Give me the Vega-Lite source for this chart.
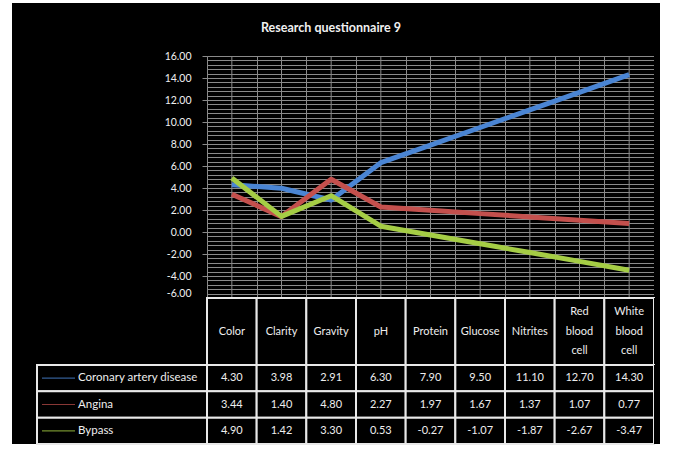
{
  "$schema": "https://vega.github.io/schema/vega-lite/v6.json",
  "background": "white",
  "padding": {"left": 12, "top": 3, "right": 5, "bottom": 5},
  "title": {"text": "Research questionnaire 9", "font": "Lato", "fontSize": 12.5, "fontWeight": "bold", "color": "#f0f0f0", "anchor": "middle", "offset": -31, "dx": -5},
  "datasets": {
    "vals": [
      {"cat": "Color", "series": "Coronary artery disease", "value": 4.30},
      {"cat": "Clarity", "series": "Coronary artery disease", "value": 3.98},
      {"cat": "Gravity", "series": "Coronary artery disease", "value": 2.91},
      {"cat": "pH", "series": "Coronary artery disease", "value": 6.30},
      {"cat": "Protein", "series": "Coronary artery disease", "value": 7.90},
      {"cat": "Glucose", "series": "Coronary artery disease", "value": 9.50},
      {"cat": "Nitrites", "series": "Coronary artery disease", "value": 11.10},
      {"cat": "Red blood cell", "series": "Coronary artery disease", "value": 12.70},
      {"cat": "White blood cell", "series": "Coronary artery disease", "value": 14.30},
      {"cat": "Color", "series": "Angina", "value": 3.44},
      {"cat": "Clarity", "series": "Angina", "value": 1.40},
      {"cat": "Gravity", "series": "Angina", "value": 4.80},
      {"cat": "pH", "series": "Angina", "value": 2.27},
      {"cat": "Protein", "series": "Angina", "value": 1.97},
      {"cat": "Glucose", "series": "Angina", "value": 1.67},
      {"cat": "Nitrites", "series": "Angina", "value": 1.37},
      {"cat": "Red blood cell", "series": "Angina", "value": 1.07},
      {"cat": "White blood cell", "series": "Angina", "value": 0.77},
      {"cat": "Color", "series": "Bypass", "value": 4.90},
      {"cat": "Clarity", "series": "Bypass", "value": 1.42},
      {"cat": "Gravity", "series": "Bypass", "value": 3.30},
      {"cat": "pH", "series": "Bypass", "value": 0.53},
      {"cat": "Protein", "series": "Bypass", "value": -0.27},
      {"cat": "Glucose", "series": "Bypass", "value": -1.07},
      {"cat": "Nitrites", "series": "Bypass", "value": -1.87},
      {"cat": "Red blood cell", "series": "Bypass", "value": -2.67},
      {"cat": "White blood cell", "series": "Bypass", "value": -3.47}
    ],
    "cats": [
      {"cat": "Color"}, {"cat": "Clarity"}, {"cat": "Gravity"}, {"cat": "pH"}, {"cat": "Protein"},
      {"cat": "Glucose"}, {"cat": "Nitrites"}, {"cat": "Red blood cell"}, {"cat": "White blood cell"}
    ],
    "series": [
      {"series": "Coronary artery disease"}, {"series": "Angina"}, {"series": "Bypass"}
    ],
    "blank": [{"k": 1}]
  },
  "columns": 4,
  "spacing": 0,
  "bounds": "flush",
  "align": "each",
  "concat": [
    {"width": 25, "height": 53, "data": {"name": "blank"}, "mark": {"type": "rect", "color": "black"}, "encoding": {}},
    {"width": 170, "height": 53, "data": {"name": "blank"}, "mark": {"type": "rect", "color": "black"}, "encoding": {}},
    {"width": 447, "height": 53, "data": {"name": "blank"}, "mark": {"type": "rect", "color": "black"}, "encoding": {}},
    {"width": 6, "height": 53, "data": {"name": "blank"}, "mark": {"type": "rect", "color": "black"}, "encoding": {}},
    {"width": 25, "height": 242, "data": {"name": "blank"}, "mark": {"type": "rect", "color": "black"}, "encoding": {}},
    {"width": 170, "height": 242, "data": {"name": "blank"}, "mark": {"type": "rect", "color": "black"}, "encoding": {}},
    {
      "width": 447, "height": 242,
      "layer": [
        {
          "data": {"name": "cats"},
          "mark": {"type": "rule", "color": "#8a8a8a", "strokeWidth": 1},
          "encoding": {
            "x": {"field": "cat", "type": "nominal", "bandPosition": 0.5,
              "scale": {"type": "band", "paddingInner": 0, "paddingOuter": 0, "domain": ["Color", "Clarity", "Gravity", "pH", "Protein", "Glucose", "Nitrites", "Red blood cell", "White blood cell"]},
              "axis": {"grid": true, "tickBand": "extent", "gridColor": "#8a8a8a", "gridWidth": 1, "labels": false, "ticks": false, "domain": false, "title": null}}
          }
        },
        {
          "data": {"name": "vals"},
          "mark": {"type": "line", "strokeWidth": 5, "strokeJoin": "round"},
          "encoding": {
            "x": {"field": "cat", "type": "nominal", "bandPosition": 0.5,
              "scale": {"type": "band", "paddingInner": 0, "paddingOuter": 0, "domain": ["Color", "Clarity", "Gravity", "pH", "Protein", "Glucose", "Nitrites", "Red blood cell", "White blood cell"]}},
            "y": {"field": "value", "type": "quantitative",
              "scale": {"domain": [-6, 16], "nice": false, "zero": false},
              "axis": {
                "values": [-6, -5.6, -5.2, -4.8, -4.4, -4, -3.6, -3.2, -2.8, -2.4, -2, -1.6, -1.2, -0.8, -0.4, 0, 0.4, 0.8, 1.2, 1.6, 2, 2.4, 2.8, 3.2, 3.6, 4, 4.4, 4.8, 5.2, 5.6, 6, 6.4, 6.8, 7.2, 7.6, 8, 8.4, 8.8, 9.2, 9.6, 10, 10.4, 10.8, 11.2, 11.6, 12, 12.4, 12.8, 13.2, 13.6, 14, 14.4, 14.8, 15.2, 15.6, 16],
                "grid": true, "gridColor": "#8a8a8a", "gridWidth": 1,
                "domain": true, "domainColor": "#8a8a8a",
                "ticks": true, "tickSize": 5, "tickColor": "#8a8a8a",
                "tickOpacity": {"condition": {"test": "abs(datum.value/2 - round(datum.value/2)) < 0.01", "value": 1}, "value": 0},
                "labelExpr": "abs(datum.value/2 - round(datum.value/2)) < 0.01 ? replace(format(datum.value, '.2f'), '\u2212', '-') : ''",
                "labelBaseline": {"condition": {"test": "datum.value < -5.9", "value": "bottom"}, "value": "middle"},
                "labelOverlap": false, "labelPadding": 11,
                "labelFont": "Lato", "labelFontSize": 10.5, "labelColor": "#f0f0f0",
                "title": null
              }},
            "color": {"field": "series", "type": "nominal",
              "scale": {"domain": ["Coronary artery disease", "Angina", "Bypass"], "range": ["#4a85d4", "#c4504d", "#a5cd45"]},
              "legend": null}
          }
        }
      ]
    },
    {"width": 6, "height": 242, "data": {"name": "blank"}, "mark": {"type": "rect", "color": "black"}, "encoding": {}},
    {"width": 25, "height": 67, "data": {"name": "blank"}, "mark": {"type": "rect", "color": "black"}, "encoding": {}},
    {"width": 170, "height": 67, "data": {"name": "blank"}, "mark": {"type": "rect", "color": "black"}, "encoding": {}},
    {
      "width": 447, "height": 67,
      "data": {"name": "cats"},
      "encoding": {
        "x": {"field": "cat", "type": "nominal",
          "scale": {"type": "band", "paddingInner": 0, "paddingOuter": 0, "domain": ["Color", "Clarity", "Gravity", "pH", "Protein", "Glucose", "Nitrites", "Red blood cell", "White blood cell"]},
          "axis": null}
      },
      "layer": [
        {"mark": {"type": "rect", "fill": "black", "stroke": "#e8e8e8", "strokeWidth": 2}},
        {"transform": [{"filter": "indexof(datum.cat, ' ') < 0"}],
         "mark": {"type": "text", "font": "Lato", "fontSize": 11, "color": "#eeeeee"},
         "encoding": {"text": {"field": "cat", "type": "nominal"}}},
        {"transform": [{"filter": "indexof(datum.cat, ' ') >= 0"}],
         "mark": {"type": "text", "lineBreak": " ", "lineHeight": 19.5, "dy": -19.5, "font": "Lato", "fontSize": 11, "color": "#eeeeee"},
         "encoding": {"text": {"field": "cat", "type": "nominal"}}}
      ]
    },
    {"width": 6, "height": 67, "data": {"name": "blank"}, "mark": {"type": "rect", "color": "black"}, "encoding": {}},
    {"width": 25, "height": 79, "data": {"name": "blank"}, "mark": {"type": "rect", "color": "black"}, "encoding": {}},
    {
      "width": 170, "height": 79,
      "data": {"name": "series"},
      "encoding": {
        "y": {"field": "series", "type": "nominal",
          "scale": {"type": "band", "paddingInner": 0, "paddingOuter": 0, "domain": ["Coronary artery disease", "Angina", "Bypass"]},
          "axis": null}
      },
      "layer": [
        {"mark": {"type": "rect", "fill": "black", "stroke": "#e8e8e8", "strokeWidth": 2}},
        {"mark": {"type": "point", "shape": "stroke", "size": 1089, "strokeWidth": 1.2, "xOffset": -63.5, "filled": false},
         "encoding": {"color": {"field": "series", "type": "nominal",
            "scale": {"domain": ["Coronary artery disease", "Angina", "Bypass"], "range": ["#4a85d4", "#c4504d", "#a5cd45"]}, "legend": null}}},
        {"mark": {"type": "text", "align": "left", "dx": -44, "font": "Lato", "fontSize": 11.5, "color": "#eeeeee"},
         "encoding": {"text": {"field": "series", "type": "nominal"}}}
      ]
    },
    {
      "width": 447, "height": 79,
      "data": {"name": "vals"},
      "encoding": {
        "x": {"field": "cat", "type": "nominal",
          "scale": {"type": "band", "paddingInner": 0, "paddingOuter": 0, "domain": ["Color", "Clarity", "Gravity", "pH", "Protein", "Glucose", "Nitrites", "Red blood cell", "White blood cell"]},
          "axis": null},
        "y": {"field": "series", "type": "nominal",
          "scale": {"type": "band", "paddingInner": 0, "paddingOuter": 0, "domain": ["Coronary artery disease", "Angina", "Bypass"]},
          "axis": null}
      },
      "layer": [
        {"mark": {"type": "rect", "fill": "black", "stroke": "#e8e8e8", "strokeWidth": 2}},
        {"mark": {"type": "text", "font": "Lato", "fontSize": 11, "color": "#eeeeee"},
         "encoding": {"text": {"field": "value", "type": "quantitative", "format": ".2f"}}}
      ]
    },
    {"width": 6, "height": 79, "data": {"name": "blank"}, "mark": {"type": "rect", "color": "black"}, "encoding": {}}
  ],
  "config": {
    "view": {"stroke": null, "fill": "black"},
    "font": "Lato",
    "locale": {"number": {"decimal": ".", "thousands": ",", "grouping": [3], "currency": ["", ""], "minus": "-"}}
  }
}
